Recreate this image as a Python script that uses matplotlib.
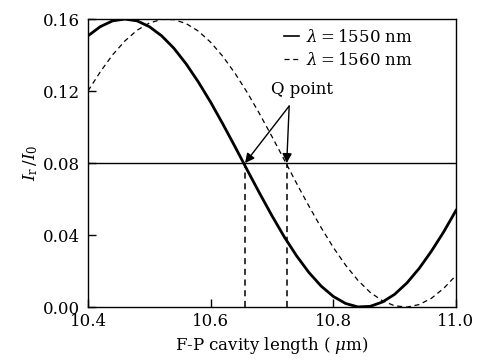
import matplotlib
matplotlib.use("Agg")
import matplotlib.pyplot as plt
import numpy as np

plt.rcParams["font.family"] = ["DejaVu Serif"]
plt.rcParams["mathtext.fontset"] = "dejavuserif"

# cavity length (um), sampled every 0.02
cavity_len = [10.40, 10.42, 10.44, 10.46, 10.48, 10.50, 10.52, 10.54, 10.56, 10.58,
              10.60, 10.62, 10.64, 10.66, 10.68, 10.70, 10.72, 10.74, 10.76, 10.78,
              10.80, 10.82, 10.84, 10.86, 10.88, 10.90, 10.92, 10.94, 10.96, 10.98,
              11.00]

# reflected intensity ratio, lambda = 1550 nm
refl_1550 = [0.1507, 0.1558, 0.1590, 0.1600, 0.1590, 0.1558, 0.1507, 0.1438, 0.1351, 0.1250,
             0.1138, 0.1016, 0.0889, 0.0759, 0.0631, 0.0507, 0.0390, 0.0285, 0.0193, 0.0117,
             0.0059, 0.0020, 0.0001, 0.0004, 0.0028, 0.0071, 0.0134, 0.0215, 0.0311, 0.0418,
             0.0537]

# reflected intensity ratio, lambda = 1560 nm
refl_1560 = [0.1201, 0.1307, 0.1401, 0.1478, 0.1538, 0.1578, 0.1598, 0.1597, 0.1575, 0.1533,
             0.1471, 0.1392, 0.1297, 0.1190, 0.1072, 0.0947, 0.0818, 0.0688, 0.0562, 0.0442,
             0.0331, 0.0233, 0.0149, 0.0082, 0.0035, 0.0007, 0.0000, 0.0014, 0.0049, 0.0104,
             0.0176]

q_level = 0.08
q_points = [10.656, 10.724]
q_label_xy = (10.728, 0.1117)

fig = plt.figure(figsize=(4.81, 3.60), dpi=100)
ax = fig.add_axes([0.183, 0.147, 0.765, 0.800])

ax.plot(cavity_len, refl_1550, color="black", lw=2.0, label=r"$\lambda = 1550$ nm")
ax.plot(cavity_len, refl_1560, color="black", lw=0.9, ls=(0, (4, 3)),
        label=r"$\lambda = 1560$ nm")

ax.axhline(q_level, color="black", lw=1.0)
for xq in q_points:
    ax.plot([xq, xq], [0, q_level], color="black", lw=1.1, ls=(0, (4, 3)))

ax.text(10.749, 0.1161, "Q point", fontsize=12, ha="center", va="bottom")
for xq in q_points:
    ax.annotate("", xy=(xq, q_level), xytext=q_label_xy,
                arrowprops=dict(arrowstyle="-|>", color="black", lw=1.0,
                                mutation_scale=14, shrinkA=0, shrinkB=0))

ax.set_xlim(10.4, 11.0)
ax.set_ylim(0, 0.16)
ax.set_xticks([10.4, 10.6, 10.8, 11.0])
ax.set_xticklabels(["10.4", "10.6", "10.8", "11.0"])
ax.set_yticks([0, 0.04, 0.08, 0.12, 0.16])
ax.set_yticklabels(["0.00", "0.04", "0.08", "0.12", "0.16"])
ax.tick_params(direction="in", length=6, width=1, labelsize=12)
ax.tick_params(axis="x", pad=4)
ax.tick_params(axis="y", pad=6)
for s in ax.spines.values():
    s.set_linewidth(1.0)

ax.set_xlabel(r"F-P cavity length ( $\mu$m)", fontsize=12, labelpad=4)
ax.set_ylabel(r"$I_{\rm r}\,/I_0$", fontsize=12, labelpad=2)

leg = ax.legend(loc="upper right", frameon=False, fontsize=12, handlelength=0.9,
                handletextpad=0.4, labelspacing=0.35, borderaxespad=0.2,
                bbox_to_anchor=(0.91, 1.0))
leg.legend_handles[0].set_linewidth(1.2)

fig.savefig("out.png", dpi=100)
